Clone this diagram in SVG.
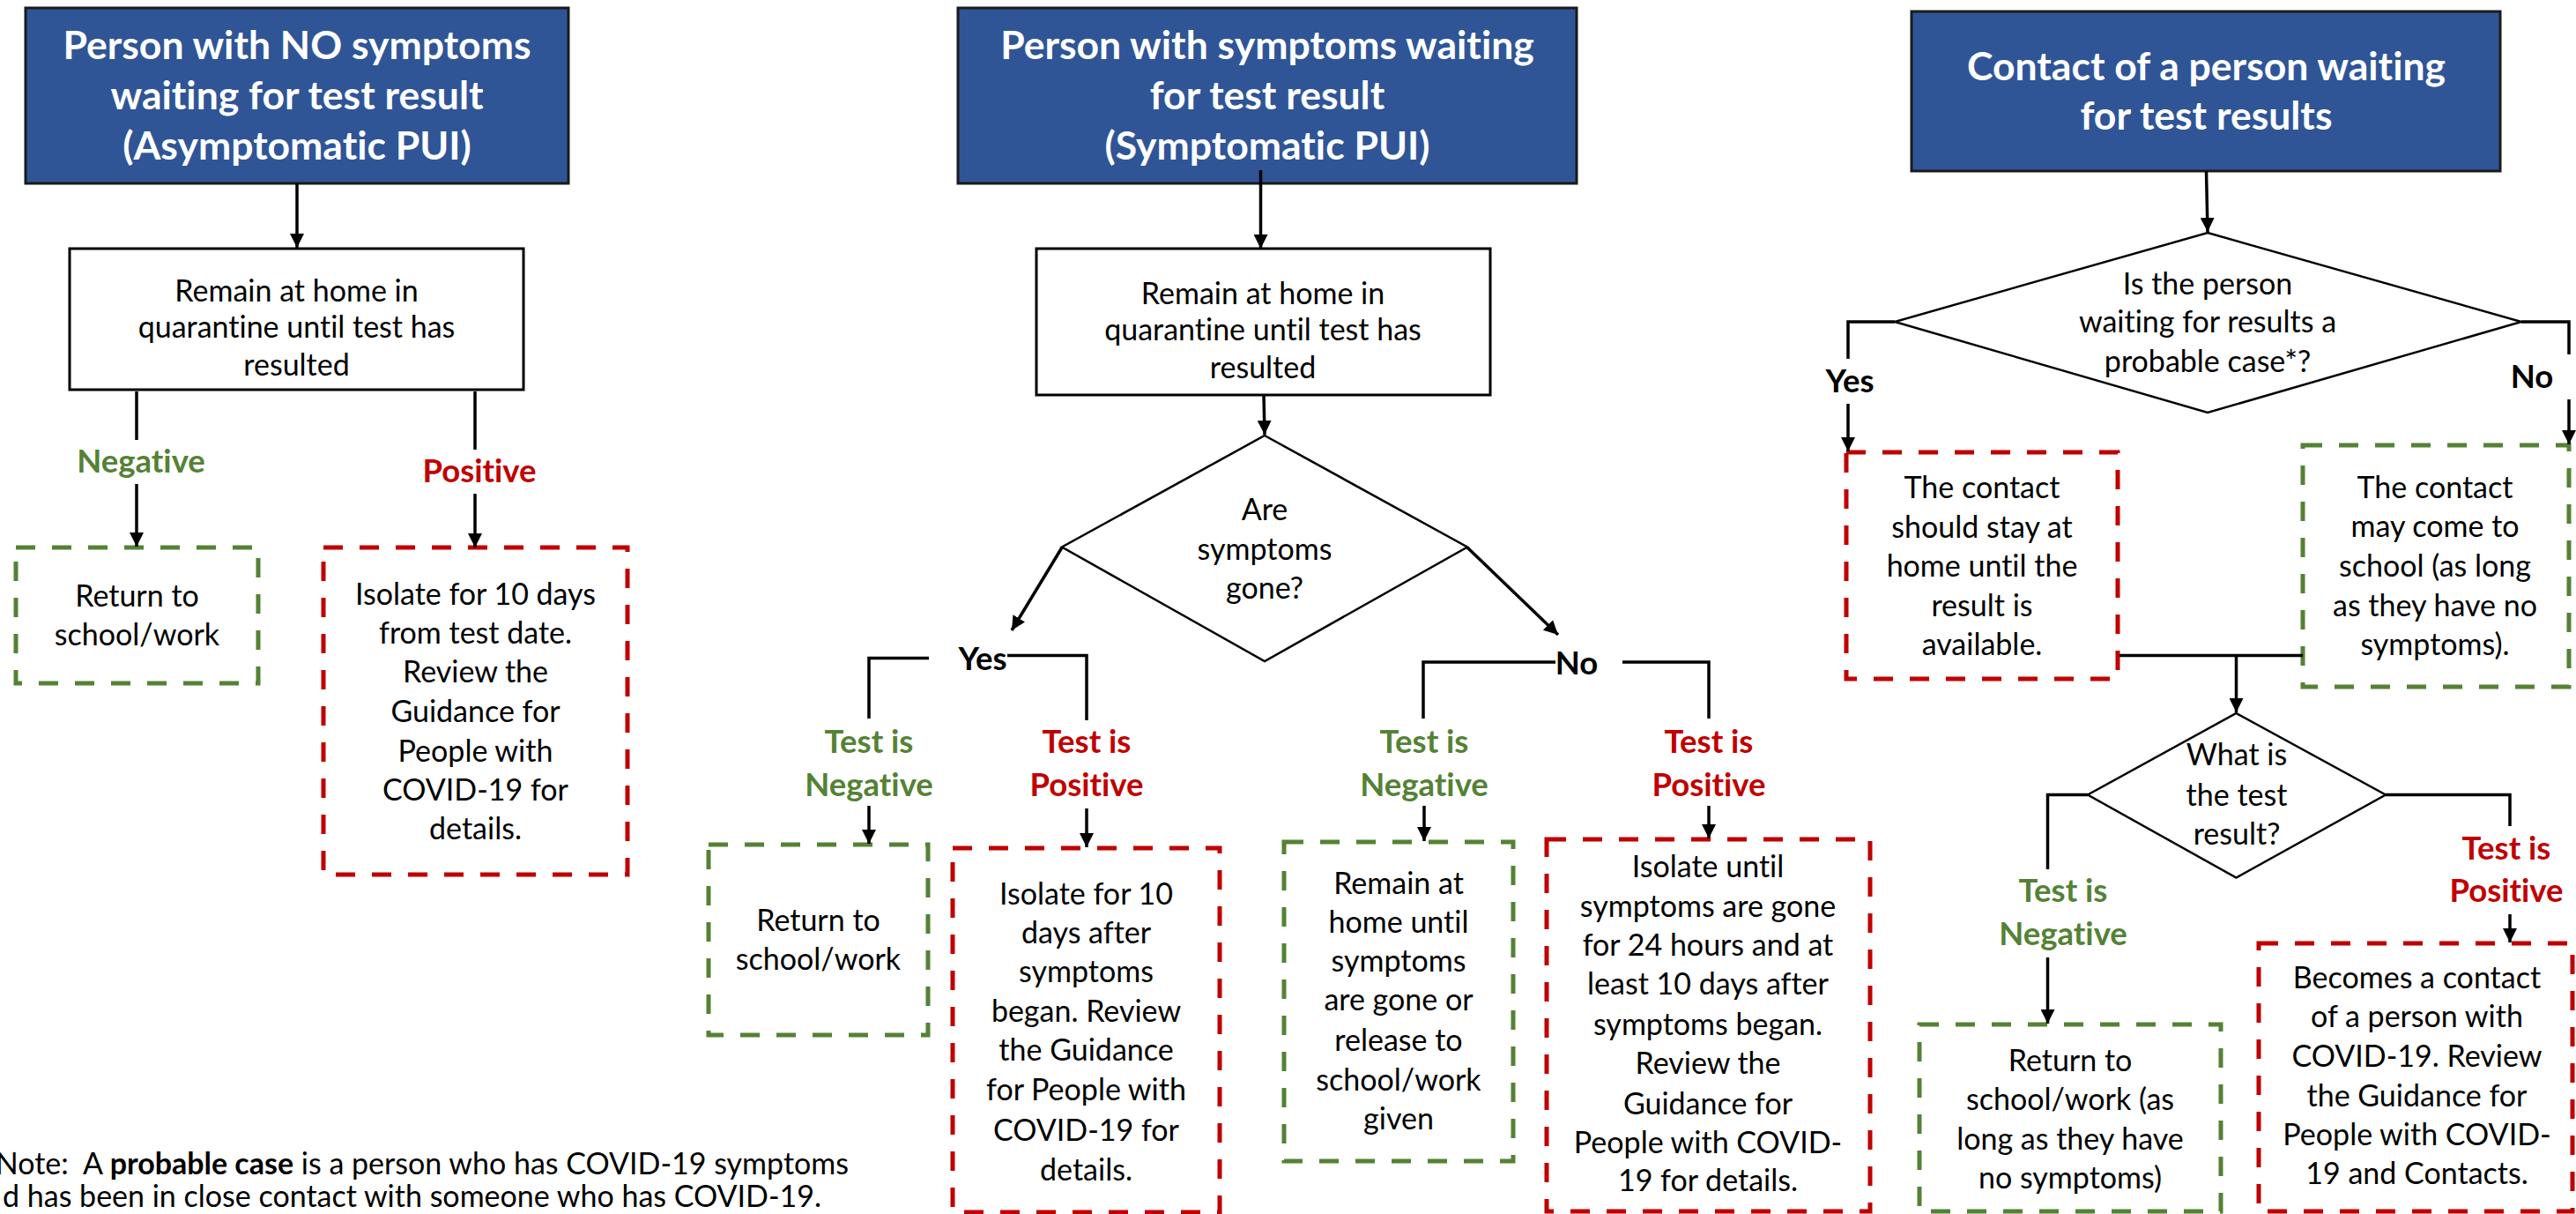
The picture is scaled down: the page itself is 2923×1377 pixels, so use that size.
<svg xmlns="http://www.w3.org/2000/svg" width="2923" height="1377" viewBox="0 0 2923 1377">
<style>
text{font-family:Lato,"Liberation Sans",sans-serif;text-anchor:middle;font-variant-ligatures:none;font-feature-settings:"liga" 0;}
.t{font-size:44.5px;font-weight:bold;fill:#fff;}
.b{font-size:34px;fill:#000;}
.lg{font-size:36.5px;font-weight:bold;fill:#548235;}
.lr{font-size:36.5px;font-weight:bold;fill:#C00000;}
.lk{font-size:36.5px;font-weight:bold;fill:#000;}
.hdr{fill:#2F5597;stroke:#1a1a1a;stroke-width:3;}
.box{fill:#fff;stroke:#000;stroke-width:3;}
.dia{fill:#fff;stroke:#000;stroke-width:2.5;}
.dg{fill:#fff;stroke:#548235;stroke-width:5;stroke-dasharray:22 19;}
.dr{fill:#fff;stroke:#C00000;stroke-width:5;stroke-dasharray:22 19;}
.c{fill:none;stroke:#000;stroke-width:3.5;}
.a{fill:none;stroke:#000;stroke-width:3.5;marker-end:url(#ah);}
</style>
<defs>
<marker id="ah" markerUnits="userSpaceOnUse" markerWidth="16" markerHeight="16" refX="16" refY="8" orient="auto">
<path d="M0,0 L16,8 L0,16 z" fill="#000"/>
</marker>
</defs>
<rect width="2923" height="1377" fill="#fff"/>

<!-- Column 1 -->
<g id="n1-header">
<rect class="hdr" x="29" y="9" width="616" height="199"/>
<text class="t" x="337" y="67">Person with NO symptoms</text>
<text class="t" x="337" y="124">waiting for test result</text>
<text class="t" x="337" y="181">(Asymptomatic PUI)</text>
</g>
<g id="n1-quarantine">
<rect class="box" x="79" y="282" width="515" height="160"/>
<text class="b" x="336.5" y="341.5">Remain at home in</text>
<text class="b" x="336.5" y="383">quarantine until test has</text>
<text class="b" x="336.5" y="425.5">resulted</text>
</g>
<g id="n1-negative">
<rect class="dg" x="18" y="621" width="275" height="154"/>
<text class="b" x="155.5" y="688">Return to</text>
<text class="b" x="155.5" y="732">school/work</text>
</g>
<g id="n1-positive">
<rect class="dr" x="367" y="621" width="345" height="371"/>
<text class="b" x="539.5" y="686">Isolate for 10 days</text>
<text class="b" x="539.5" y="730">from test date.</text>
<text class="b" x="539.5" y="774">Review the</text>
<text class="b" x="539.5" y="819">Guidance for</text>
<text class="b" x="539.5" y="864">People with</text>
<text class="b" x="539.5" y="908">COVID-19 for</text>
<text class="b" x="539.5" y="952">details.</text>
</g>

<!-- Column 2 -->
<g id="n2-header">
<rect class="hdr" x="1087" y="9" width="702" height="199"/>
<text class="t" x="1438" y="67">Person with symptoms waiting</text>
<text class="t" x="1438" y="124">for test result</text>
<text class="t" x="1438" y="181">(Symptomatic PUI)</text>
</g>
<g id="n2-quarantine">
<rect class="box" x="1176" y="282" width="515" height="166"/>
<text class="b" x="1433" y="344.5">Remain at home in</text>
<text class="b" x="1433" y="386">quarantine until test has</text>
<text class="b" x="1433" y="428.5">resulted</text>
</g>
<g id="n2-decision">
<polygon class="dia" points="1435,494 1665,620.5 1435,750 1205,620.5"/>
<text class="b" x="1435" y="590">Are</text>
<text class="b" x="1435" y="635">symptoms</text>
<text class="b" x="1435" y="679">gone?</text>
</g>
<g id="n2-yes-negative">
<rect class="dg" x="804" y="958" width="249" height="216"/>
<text class="b" x="928.5" y="1055.5">Return to</text>
<text class="b" x="928.5" y="1099.5">school/work</text>
</g>
<g id="n2-yes-positive">
<rect class="dr" x="1081" y="962" width="303" height="413"/>
<text class="b" x="1232.5" y="1025.5">Isolate for 10</text>
<text class="b" x="1232.5" y="1069.5">days after</text>
<text class="b" x="1232.5" y="1113.5">symptoms</text>
<text class="b" x="1232.5" y="1158.5">began. Review</text>
<text class="b" x="1232.5" y="1203">the Guidance</text>
<text class="b" x="1232.5" y="1248">for People with</text>
<text class="b" x="1232.5" y="1294">COVID-19 for</text>
<text class="b" x="1232.5" y="1338.5">details.</text>
</g>
<g id="n2-no-negative">
<rect class="dg" x="1457" y="955" width="260" height="362"/>
<text class="b" x="1587" y="1014">Remain at</text>
<text class="b" x="1587" y="1058">home until</text>
<text class="b" x="1587" y="1102">symptoms</text>
<text class="b" x="1587" y="1146">are gone or</text>
<text class="b" x="1587" y="1191.5">release to</text>
<text class="b" x="1587" y="1236.5">school/work</text>
<text class="b" x="1587" y="1281">given</text>
</g>
<g id="n2-no-positive">
<rect class="dr" x="1755" y="952" width="367" height="422"/>
<text class="b" x="1938" y="995">Isolate until</text>
<text class="b" x="1938" y="1039.5">symptoms are gone</text>
<text class="b" x="1938" y="1084">for 24 hours and at</text>
<text class="b" x="1938" y="1128">least 10 days after</text>
<text class="b" x="1938" y="1174">symptoms began.</text>
<text class="b" x="1938" y="1218">Review the</text>
<text class="b" x="1938" y="1264">Guidance for</text>
<text class="b" x="1938" y="1308">People with COVID-</text>
<text class="b" x="1938" y="1351">19 for details.</text>
</g>

<!-- Column 3 -->
<g id="n3-header">
<rect class="hdr" x="2169" y="13" width="668" height="181"/>
<text class="t" x="2503.5" y="90.5">Contact of a person waiting</text>
<text class="t" x="2503.5" y="147">for test results</text>
</g>
<g id="n3-decision">
<polygon class="dia" points="2505,264 2861,365 2505,468 2150,365"/>
<text class="b" x="2505" y="334">Is the person</text>
<text class="b" x="2505" y="377">waiting for results a</text>
<text class="b" x="2505" y="422">probable case*?</text>
</g>
<g id="n3-yes">
<rect class="dr" x="2095" y="513" width="308" height="257"/>
<text class="b" x="2249" y="564.5">The contact</text>
<text class="b" x="2249" y="609.5">should stay at</text>
<text class="b" x="2249" y="654">home until the</text>
<text class="b" x="2249" y="698.5">result is</text>
<text class="b" x="2249" y="742.5">available.</text>
</g>
<g id="n3-no">
<rect class="dg" x="2613" y="505" width="302" height="274"/>
<text class="b" x="2763" y="564.5">The contact</text>
<text class="b" x="2763" y="609">may come to</text>
<text class="b" x="2763" y="654">school (as long</text>
<text class="b" x="2763" y="698.5">as they have no</text>
<text class="b" x="2763" y="742.5">symptoms).</text>
</g>
<g id="n3-decision2">
<polygon class="dia" points="2537.5,809 2707,901.5 2537.5,995.5 2369,901.5"/>
<text class="b" x="2538" y="868">What is</text>
<text class="b" x="2538" y="914">the test</text>
<text class="b" x="2538" y="958">result?</text>
</g>
<g id="n3-negative">
<rect class="dg" x="2178" y="1162" width="342" height="212"/>
<text class="b" x="2349" y="1214.5">Return to</text>
<text class="b" x="2349" y="1258.5">school/work (as</text>
<text class="b" x="2349" y="1303.5">long as they have</text>
<text class="b" x="2349" y="1347.5">no symptoms)</text>
</g>
<g id="n3-positive">
<rect class="dr" x="2563" y="1070" width="356" height="304"/>
<text class="b" x="2742.5" y="1120.5">Becomes a contact</text>
<text class="b" x="2742.5" y="1164.5">of a person with</text>
<text class="b" x="2742.5" y="1209.5">COVID-19. Review</text>
<text class="b" x="2742.5" y="1255">the Guidance for</text>
<text class="b" x="2742.5" y="1299">People with COVID-</text>
<text class="b" x="2742.5" y="1343">19 and Contacts.</text>
</g>

<g id="note">
<text class="b" x="963" y="1331.5" style="text-anchor:end" xml:space="preserve">Note:  A <tspan font-weight="bold">probable case</tspan> is a person who has COVID-19 symptoms</text>
<text class="b" x="932" y="1369" style="text-anchor:end">d has been in close contact with someone who has COVID-19.</text>
</g>

<g id="connectors">
<!-- column 1 -->
<line class="a" x1="337" y1="208" x2="337" y2="281"/>
<line class="c" x1="155" y1="444" x2="155" y2="499"/>
<line class="a" x1="155" y1="549" x2="155" y2="620"/>
<line class="c" x1="539" y1="444" x2="539" y2="510"/>
<line class="a" x1="539" y1="560" x2="539" y2="621"/>
<!-- column 2 -->
<line class="a" x1="1430.5" y1="193" x2="1430.5" y2="282"/>
<line class="a" x1="1434" y1="448" x2="1435" y2="493"/>
<line class="a" x1="1205" y1="621" x2="1148" y2="715"/>
<line class="a" x1="1665" y1="621" x2="1768" y2="720"/>
<polyline class="c" points="1054,746.5 986,746.5 986,815"/>
<polyline class="c" points="1143,743.5 1233,743.5 1233,817"/>
<line class="a" x1="986" y1="914" x2="986" y2="957"/>
<line class="a" x1="1233" y1="917" x2="1233" y2="961"/>
<polyline class="c" points="1765,751 1615,751 1615,815"/>
<polyline class="c" points="1841,751 1939,751 1939,815"/>
<line class="a" x1="1616" y1="914" x2="1616" y2="954"/>
<line class="a" x1="1939" y1="914" x2="1939" y2="951"/>
<!-- column 3 -->
<line class="a" x1="2503.5" y1="194" x2="2505" y2="263"/>
<polyline class="c" points="2150,365 2097,365 2097,407"/>
<line class="a" x1="2097" y1="458" x2="2097" y2="512"/>
<polyline class="c" points="2861,365 2915,365 2915,402"/>
<line class="a" x1="2915" y1="453" x2="2915" y2="504"/>
<line class="c" x1="2405" y1="743.5" x2="2613" y2="743.5"/>
<line class="a" x1="2537.5" y1="743.5" x2="2537.5" y2="808"/>
<polyline class="c" points="2369,901.5 2323.5,901.5 2323.5,986"/>
<line class="a" x1="2323.5" y1="1086" x2="2323.5" y2="1161"/>
<polyline class="c" points="2707,901.5 2848,901.5 2848,937"/>
<line class="a" x1="2848" y1="1037" x2="2848" y2="1069"/>
<g id="connector-labels">
<text class="lg" x="160" y="536">Negative</text>
<text class="lr" x="544" y="547">Positive</text>
<text class="lk" x="1115" y="760">Yes</text>
<text class="lk" x="1789" y="765">No</text>
<text class="lg" x="986" y="854">Test is</text>
<text class="lg" x="986" y="902.5">Negative</text>
<text class="lr" x="1233" y="854">Test is</text>
<text class="lr" x="1233" y="902.5">Positive</text>
<text class="lg" x="1616" y="854">Test is</text>
<text class="lg" x="1616" y="902.5">Negative</text>
<text class="lr" x="1939" y="854">Test is</text>
<text class="lr" x="1939" y="902.5">Positive</text>
<text class="lk" x="2099" y="445">Yes</text>
<text class="lk" x="2873" y="440">No</text>
<text class="lg" x="2341" y="1023">Test is</text>
<text class="lg" x="2341" y="1072">Negative</text>
<text class="lr" x="2844" y="974.5">Test is</text>
<text class="lr" x="2844" y="1023">Positive</text>
</g>
</g>
</svg>
